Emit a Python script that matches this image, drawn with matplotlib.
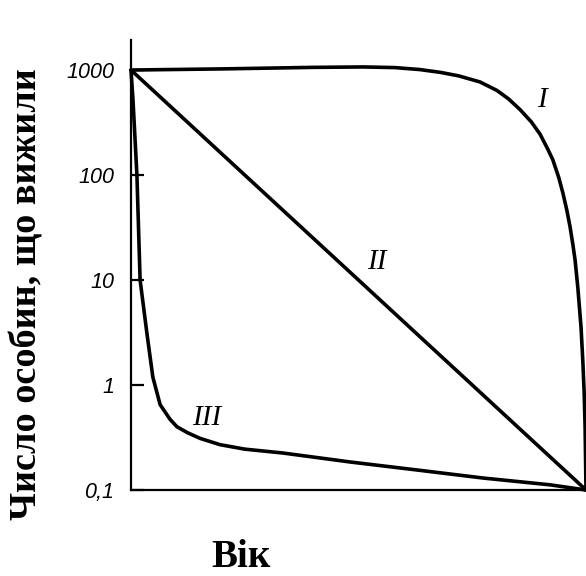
import matplotlib
matplotlib.use('Agg')
import matplotlib.pyplot as plt
from matplotlib.ticker import FixedLocator, FixedFormatter, NullLocator

# Survivorship curves (age in % of max lifespan, survivors on log scale)
age_I = [0, 20, 40, 51, 58, 63.5, 68, 72, 76.7, 80.4, 83, 85.5, 88, 89.9, 91.5, 92.7, 94, 94.9,
         95.8, 96.5, 97.1, 97.6, 98.2, 98.9, 99.3, 99.6, 99.8, 100]
surv_I = [1000, 1025, 1060, 1070, 1055, 1010, 950, 880, 770, 640, 530, 420, 320, 245, 180, 140, 95, 68,
          46, 32, 22, 15.5, 8.5, 3.6, 1.7, 0.84, 0.4, 0.1]

age_II = [0, 100]
surv_II = [1000, 0.1]

age_III = [0, 0.44, 1.3, 2.0, 3.5, 4.8, 6.4, 8.6, 10.1, 12.5, 15.2, 19.6, 25, 33.4, 48.1, 62.9, 77.4, 92.1, 100]
surv_III = [1000, 515, 100, 10, 3.1, 1.19, 0.65, 0.47, 0.40, 0.35, 0.31, 0.27, 0.245, 0.225, 0.185, 0.155, 0.13, 0.112, 0.1]

ytick_vals = [0.1, 1, 10, 100, 1000]
ytick_labels = ['0,1', '1', '10', '100', '1000']

curve_labels = ['I', 'II', 'III']
label_pos = [(90.3, 518), (54.1, 14.8), (16.7, 0.485)]

fig = plt.figure(figsize=(5.86, 5.76), dpi=100)
ax = fig.add_axes([131/586, 86/576, 455/586, 450/576])
ax.set_yscale('log')
ax.set_xlim(0, 100)
ax.set_ylim(0.1, 10**3.286)

lw = 2.6
for xs, ys in [(age_I, surv_I), (age_II, surv_II), (age_III, surv_III)]:
    ax.plot(xs, ys, color='black', lw=lw, clip_on=False,
            solid_capstyle='round', solid_joinstyle='round')

for txt, (x, y) in zip(curve_labels, label_pos):
    ax.text(x, y, txt, fontsize=21, style='italic', family=['Liberation Serif', 'DejaVu Serif'],
            ha='center', va='center')

for s in ['top', 'right']:
    ax.spines[s].set_visible(False)
for s in ['left', 'bottom']:
    ax.spines[s].set_linewidth(1.6)

ax.yaxis.set_major_locator(FixedLocator(ytick_vals))
ax.yaxis.set_major_formatter(FixedFormatter(ytick_labels))
ax.yaxis.set_minor_locator(NullLocator())
ax.tick_params(axis='y', direction='in', length=9, width=1.6, pad=12)
ax.set_xticks([])
for lab in ax.get_yticklabels():
    lab.set_fontfamily(['Liberation Sans', 'DejaVu Sans'])
    lab.set_fontstyle('italic')
    lab.set_fontsize(15.5)

fig.text(27/586, (576-294)/576, 'Число особин, що вижили', rotation=90, fontsize=27.5,
         fontweight='bold', family=['Liberation Serif', 'DejaVu Serif'], ha='center', va='center')
fig.text(241/586, (576-567)/576, 'Вік', fontsize=28, fontweight='bold',
         family=['Liberation Serif', 'DejaVu Serif'], ha='center', va='baseline')

fig.savefig('out.png', dpi=100)
